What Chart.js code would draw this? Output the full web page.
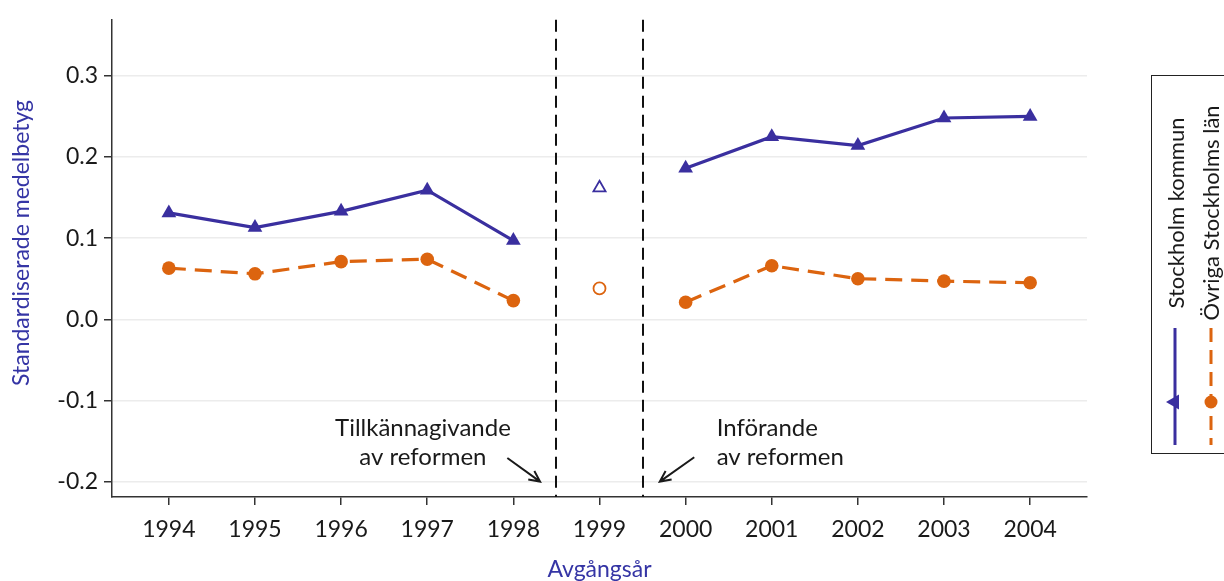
<!DOCTYPE html>
<html>
<head>
<meta charset="utf-8">
<script src="https://cdn.jsdelivr.net/npm/chart.js@4.4.1/dist/chart.umd.min.js"></script>
<style>
    html, body { margin: 0; padding: 0; background: #fff; }
    #wrap { width: 1224px; height: 581px; }
</style>
</head>
<body>
<div id="wrap"><canvas id="myChart" width="1224" height="581"></canvas></div>
<script>
const years = [1994, 1995, 1996, 1997, 1998, 1999, 2000, 2001, 2002, 2003, 2004];
const stockholmKommun = [0.131, 0.113, 0.133, 0.159, 0.097, 0.162, 0.186, 0.225, 0.214, 0.248, 0.250];
const ovrigaLan = [0.063, 0.056, 0.071, 0.074, 0.023, 0.038, 0.021, 0.066, 0.050, 0.047, 0.045];
const yTicks = [-0.2, -0.1, 0.0, 0.1, 0.2, 0.3];
const gapYear = 1999;
const reformLines = [1998.5, 1999.5];
const seriesNames = ["Stockholm kommun", "Övriga Stockholms län"];

const BLUE = "#3a2f9f";
const ORANGE = "#dc640f";
const TITLE_BLUE = "#3535a5";
const FONT = "Lato";

// Solid/dashed lines skip the reform year, which gets its own hollow marker
function linePoints(values) {
    return years.map((year, i) => ({ x: year, y: year === gapYear ? null : values[i] }));
}

function gapPoint(values) {
    const i = years.indexOf(gapYear);
    return [{ x: gapYear, y: values[i] }];
}

const annotations = [
    { lines: ["Tillkännagivande", "av reformen"], x: 1996.95, y: -0.1344, align: "center",
      from: [1997.93, -0.171], to: [1998.31, -0.200] },
    { lines: ["Införande", "av reformen"], x: 2000.36, y: -0.1344, align: "left",
      from: [2000.10, -0.170], to: [1999.70, -0.200] },
];

function drawArrow(ctx, x1, y1, x2, y2) {
    const angle = Math.atan2(y2 - y1, x2 - x1);
    const head = 12;
    ctx.beginPath();
    ctx.moveTo(x1, y1);
    ctx.lineTo(x2, y2);
    ctx.moveTo(x2 - head * Math.cos(angle - 0.45), y2 - head * Math.sin(angle - 0.45));
    ctx.lineTo(x2, y2);
    ctx.lineTo(x2 - head * Math.cos(angle + 0.45), y2 - head * Math.sin(angle + 0.45));
    ctx.stroke();
}

const reformPlugin = {
    id: "reform",
    beforeDatasetsDraw(chart) {
        const { ctx, chartArea, scales } = chart;
        ctx.save();
        ctx.strokeStyle = "#111";
        ctx.lineWidth = 2;
        ctx.setLineDash([12, 7]);
        reformLines.forEach(v => {
            const px = Math.round(scales.x.getPixelForValue(v));
            ctx.beginPath();
            ctx.moveTo(px, chartArea.top);
            ctx.lineTo(px, chartArea.bottom);
            ctx.stroke();
        });
        ctx.restore();
    },
    afterDatasetsDraw(chart) {
        const { ctx, scales } = chart;
        ctx.save();

        // annotation texts and arrows
        ctx.fillStyle = "#1a1a1a";
        ctx.font = "24px " + FONT;
        ctx.textBaseline = "middle";
        annotations.forEach(a => {
            ctx.textAlign = a.align;
            const px = scales.x.getPixelForValue(a.x);
            const py = scales.y.getPixelForValue(a.y);
            a.lines.forEach((line, i) => ctx.fillText(line, px, py + i * 29));
            ctx.strokeStyle = "#1a1a1a";
            ctx.lineWidth = 2;
            drawArrow(ctx,
                scales.x.getPixelForValue(a.from[0]), scales.y.getPixelForValue(a.from[1]),
                scales.x.getPixelForValue(a.to[0]), scales.y.getPixelForValue(a.to[1]));
        });

        // y axis title
        ctx.save();
        ctx.translate(22, 243);
        ctx.rotate(-Math.PI / 2);
        ctx.fillStyle = TITLE_BLUE;
        ctx.font = "23px " + FONT;
        ctx.textAlign = "center";
        ctx.textBaseline = "middle";
        ctx.fillText("Standardiserade medelbetyg", 0, 0);
        ctx.restore();

        // legend, rotated like the reference
        ctx.strokeStyle = "#222";
        ctx.lineWidth = 1;
        ctx.setLineDash([]);
        ctx.strokeRect(1151.5, 75.5, 120, 378);

        ctx.strokeStyle = BLUE;
        ctx.lineWidth = 3;
        ctx.beginPath();
        ctx.moveTo(1175, 328);
        ctx.lineTo(1175, 445);
        ctx.stroke();
        ctx.fillStyle = BLUE;
        ctx.beginPath();
        ctx.moveTo(1166, 402);
        ctx.lineTo(1179, 394.5);
        ctx.lineTo(1179, 409.5);
        ctx.closePath();
        ctx.fill();

        ctx.strokeStyle = ORANGE;
        ctx.setLineDash([14, 8]);
        ctx.beginPath();
        ctx.moveTo(1211, 328);
        ctx.lineTo(1211, 445);
        ctx.stroke();
        ctx.setLineDash([]);
        ctx.fillStyle = ORANGE;
        ctx.beginPath();
        ctx.arc(1211, 402, 6.5, 0, Math.PI * 2);
        ctx.fill();

        ctx.fillStyle = "#1a1a1a";
        ctx.font = "22px " + FONT;
        ctx.textAlign = "center";
        ctx.textBaseline = "alphabetic";
        [[seriesNames[0], 1184], [seriesNames[1], 1219]].forEach(([name, bx]) => {
            ctx.save();
            ctx.translate(bx, 213);
            ctx.rotate(-Math.PI / 2);
            ctx.fillText(name, 0, 0);
            ctx.restore();
        });

        ctx.restore();
    }
};

const ctx = document.getElementById("myChart").getContext("2d");

const myChart = new Chart(ctx, {
    type: "line",
    data: {
        datasets: [
            {
                label: seriesNames[0],
                data: linePoints(stockholmKommun),
                borderColor: BLUE,
                backgroundColor: BLUE,
                borderWidth: 3.2,
                pointStyle: "triangle",
                pointRadius: 8.5,
                pointBorderWidth: 0,
                spanGaps: false,
                tension: 0,
            },
            {
                label: seriesNames[1],
                data: linePoints(ovrigaLan),
                borderColor: ORANGE,
                backgroundColor: ORANGE,
                borderWidth: 3.2,
                borderDash: [17, 9],
                pointStyle: "circle",
                pointRadius: 6.8,
                pointBorderWidth: 0,
                spanGaps: false,
                tension: 0,
            },
            {
                label: seriesNames[0] + " " + gapYear,
                data: gapPoint(stockholmKommun),
                showLine: false,
                borderColor: BLUE,
                backgroundColor: "#fff",
                pointStyle: "triangle",
                pointRadius: 7,
                pointBorderWidth: 1.8,
            },
            {
                label: seriesNames[1] + " " + gapYear,
                data: gapPoint(ovrigaLan),
                showLine: false,
                borderColor: ORANGE,
                backgroundColor: "#fff",
                pointStyle: "circle",
                pointRadius: 6,
                pointBorderWidth: 1.8,
            },
        ],
    },
    options: {
        responsive: false,
        animation: false,
        devicePixelRatio: 1,
        layout: { padding: { top: 17, right: 137, bottom: 0, left: 0 } },
        plugins: {
            legend: { display: false },
            tooltip: { enabled: false },
        },
        scales: {
            x: {
                type: "linear",
                min: 1993.34,
                max: 2004.66,
                afterBuildTicks: scale => { scale.ticks = years.map(v => ({ value: v })); },
                afterFit: scale => { scale.height = 84; },
                ticks: {
                    autoSkip: false,
                    maxRotation: 0,
                    padding: 11,
                    color: "#1a1a1a",
                    font: { family: FONT, size: 23 },
                    callback: v => String(v),
                },
                grid: { drawOnChartArea: false, tickLength: 8, tickColor: "#333", lineWidth: 1.5 },
                border: { color: "#333", width: 1.5 },
                title: {
                    display: true,
                    text: "Avgångsår",
                    color: TITLE_BLUE,
                    padding: 0,
                    font: { family: FONT, size: 23, lineHeight: 1.0 },
                },
            },
            y: {
                min: -0.219,
                max: 0.369,
                afterBuildTicks: scale => { scale.ticks = yTicks.map(v => ({ value: v })); },
                afterFit: scale => { scale.width = 112; },
                ticks: {
                    padding: 6,
                    color: "#1a1a1a",
                    font: { family: FONT, size: 23 },
                    callback: v => v.toFixed(1),
                },
                grid: { color: "#ececec", lineWidth: 1.5, tickLength: 8, tickColor: "#333" },
                border: { color: "#333", width: 1.5 },
            },
        },
    },
    plugins: [reformPlugin],
});
</script>
</body>
</html>
